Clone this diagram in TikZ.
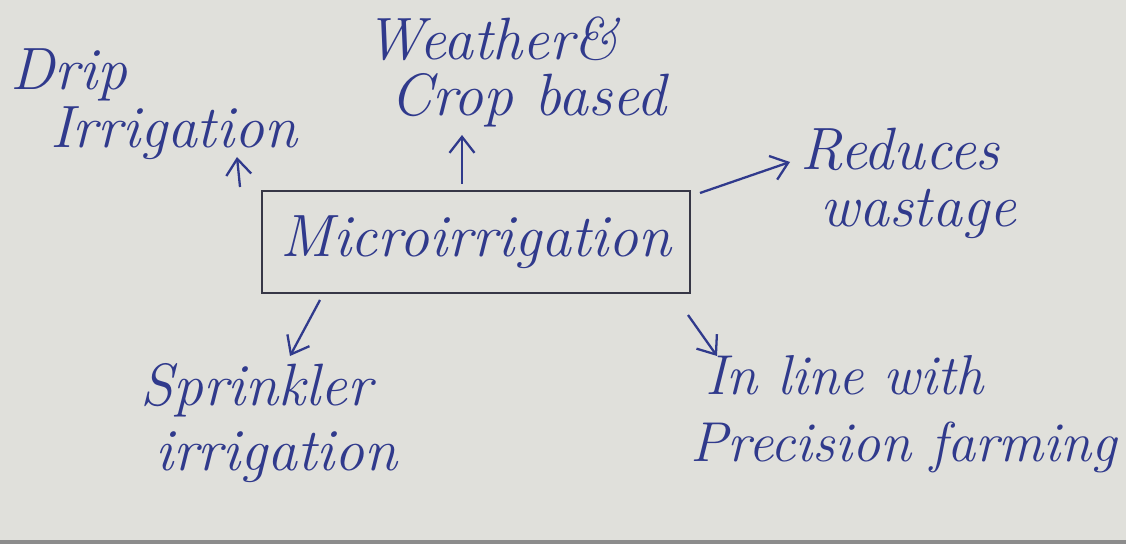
\documentclass[tikz,border=0pt]{standalone}
\usetikzlibrary{arrows.meta}
\definecolor{paper}{RGB}{224,224,219}
\definecolor{ink}{RGB}{48,58,140}
\definecolor{pencil}{RGB}{55,55,70}
\tikzset{
  hand/.style={text=ink, inner sep=0pt, align=left, font=\fontsize{34}{38}\selectfont\itshape},
  inkarrow/.style={draw=ink, line width=1.3pt, -{Straight Barb[length=3.2mm,width=5mm]}},
  mainbox/.style={draw=pencil, line width=1.4pt, text=ink, minimum width=8.56cm, minimum height=2.04cm, font=\fontsize{34}{38}\selectfont\itshape}
}
\begin{document}
\begin{tikzpicture}[x=0.02cm,y=-0.02cm]
\useasboundingbox (0,0) rectangle (1126,544);
\fill[paper] (0,0) rectangle (1126,544);
\fill[black!45] (0,540) rectangle (1126,544);
\node[mainbox] (micro) at (476,242) {Microirrigation};
\node[hand, anchor=north west] (drip) at (10,48) {Drip\\[-5pt]\hspace*{0.8cm}Irrigation};
\node[hand, anchor=north west] (weather) at (365,16) {Weather\&\\[-6pt]\hspace*{0.5cm}Crop based};
\node[hand, anchor=north west] (reduces) at (800,128) {Reduces\\[-6pt]\hspace*{0.4cm}wastage};
\node[hand, anchor=north west] (sprinkler) at (140,363) {Sprinkler\\[-1pt]\hspace*{0.3cm}irrigation};
\node[hand, anchor=north west, font=\fontsize{32}{36}\selectfont\itshape] (precision) at (690,355) {\hspace*{0.3cm}In line with\\[2pt]Precision farming};
\coordinate (a1s) at (240,187); \coordinate (a1e) at (237,157);
\coordinate (a2s) at (462,184); \coordinate (a2e) at (462,135);
\coordinate (a3s) at (700,193); \coordinate (a3e) at (790,162);
\coordinate (a4s) at (320,300); \coordinate (a4e) at (290,356);
\coordinate (a5s) at (688,315); \coordinate (a5e) at (717,356);
\draw[inkarrow] (a1s) -- (a1e);
\draw[inkarrow] (a2s) -- (a2e);
\draw[inkarrow] (a3s) -- (a3e);
\draw[inkarrow] (a4s) -- (a4e);
\draw[inkarrow] (a5s) -- (a5e);
\end{tikzpicture}
\end{document}
